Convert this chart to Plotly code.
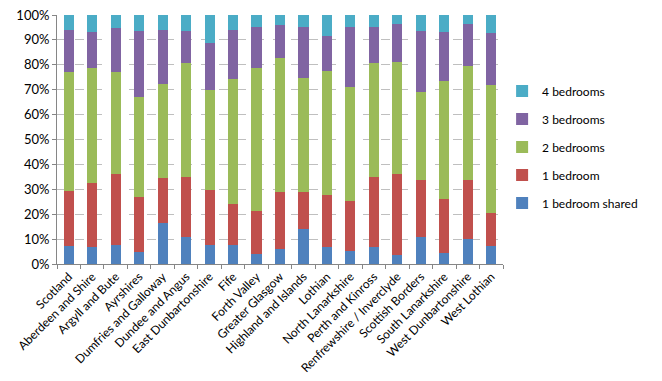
import plotly.graph_objects as go

categories = ["Scotland", "Aberdeen and Shire", "Argyll and Bute", "Ayrshires",
              "Dumfries and Galloway", "Dundee and Angus", "East Dunbartonshire",
              "Fife", "Forth Valley", "Greater Glasgow", "Highland and Islands",
              "Lothian", "North Lanarkshire", "Perth and Kinross",
              "Renfrewshire / Inverclyde", "Scottish Borders", "South Lanarkshire",
              "West Dunbartonshire", "West Lothian"]

bed1_shared = [7.1, 6.7, 7.8, 4.7, 16.6, 11.0, 7.5, 7.5, 4.1, 5.9, 14.2, 7.0, 5.1, 7.0, 3.6, 11.0, 4.3, 9.9, 7.2]
bed1 = [22.3, 25.9, 28.2, 22.3, 18.0, 24.0, 22.3, 16.7, 17.3, 23.1, 14.8, 20.8, 20.2, 27.8, 32.6, 22.6, 21.9, 23.9, 13.4]
bed2 = [47.7, 46.1, 41.1, 40.2, 37.5, 45.7, 40.0, 50.1, 57.3, 53.9, 45.6, 49.7, 45.6, 45.8, 44.9, 35.5, 47.3, 45.7, 51.3]
bed3 = [16.9, 14.5, 17.7, 26.5, 21.9, 13.0, 19.0, 19.7, 16.4, 13.1, 20.6, 14.2, 24.2, 14.5, 15.3, 24.6, 19.7, 16.9, 20.9]
bed4 = [6.0, 6.8, 5.2, 6.3, 6.0, 6.3, 11.2, 6.0, 4.9, 4.0, 4.8, 8.3, 4.9, 4.9, 3.6, 6.3, 6.8, 3.6, 7.2]

series = [
    ("1 bedroom shared", bed1_shared, "#4F81BD"),
    ("1 bedroom", bed1, "#C0504D"),
    ("2 bedrooms", bed2, "#9BBB59"),
    ("3 bedrooms", bed3, "#8064A2"),
    ("4 bedrooms", bed4, "#4BACC6"),
]

fig = go.Figure()
for i, (name, vals, col) in enumerate(series):
    fig.add_trace(go.Bar(x=categories, y=[v / 100 for v in vals], name=name,
                         marker=dict(color=col, line=dict(width=0)),
                         legendgroup=f"g{i}", legendrank=100 - i))

fig.update_layout(
    barmode="stack",
    bargap=0.57,
    width=654, height=373,
    margin=dict(l=49, r=159, t=7, b=117),
    paper_bgcolor="white", plot_bgcolor="white",
    font=dict(family="Lato, Open Sans, sans-serif", size=12, color="#000000"),
    showlegend=True,
    legend=dict(traceorder="grouped", tracegroupgap=9,
                x=0.998, y=0.47, yanchor="middle", xanchor="left",
                font=dict(size=12), itemwidth=30),
    yaxis=dict(range=[0, 1], tickformat=".0%", dtick=0.1, automargin=False,
               ticklabeloverflow="allow",
               showgrid=True, gridcolor="#BFBFBF", griddash="dash", gridwidth=1,
               showline=True, linecolor="#868686", linewidth=1,
               ticks="outside", ticklen=4, tickcolor="#868686",
               zeroline=False, tickfont=dict(size=13)),
    xaxis=dict(tickangle=-45, showline=True, linecolor="#868686", linewidth=1,
               ticks="outside", ticklen=4, tickcolor="#868686", automargin=False,
               ticklabeloverflow="allow",
               tickson="boundaries", tickfont=dict(size=12)),
)

fig.write_html("out.html")
